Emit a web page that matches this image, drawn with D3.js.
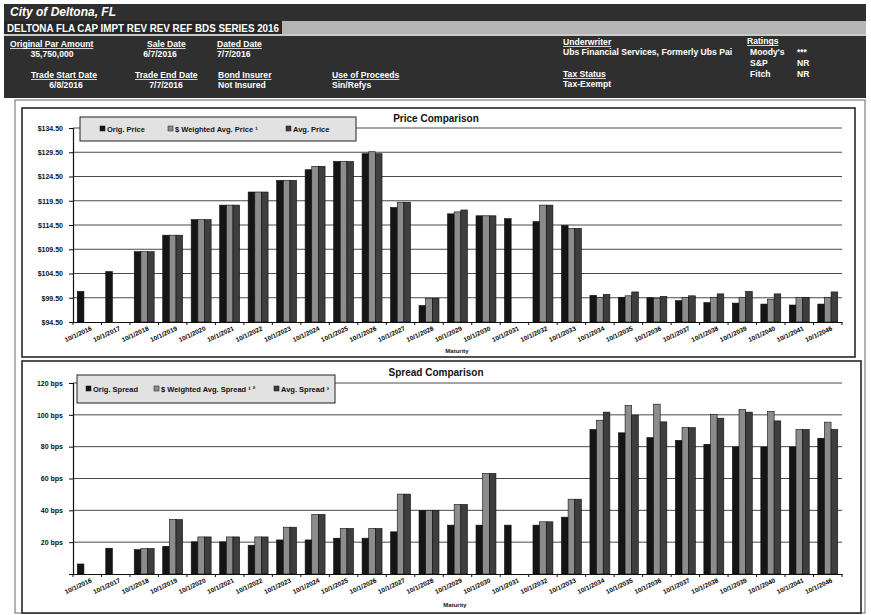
<!DOCTYPE html>
<html>
<head>
<meta charset="utf-8">
<script src="https://cdn.jsdelivr.net/npm/d3@7"></script>
<style>
  html, body { margin: 0; padding: 0; background: #fff; }
  svg { display: block; font-family: "Liberation Sans", Arial, sans-serif; }
</style>
</head>
<body>
<svg id="chart" width="871" height="615"></svg>
<script>
// Maturity dates shared by both panels
const maturities = [
  "10/1/2016", "10/1/2017", "10/1/2018", "10/1/2019", "10/1/2020", "10/1/2021",
  "10/1/2022", "10/1/2023", "10/1/2024", "10/1/2025", "10/1/2026", "10/1/2027",
  "10/1/2028", "10/1/2029", "10/1/2030", "10/1/2031", "10/1/2032", "10/1/2033",
  "10/1/2034", "10/1/2035", "10/1/2036", "10/1/2037", "10/1/2038", "10/1/2039",
  "10/1/2040", "10/1/2041", "10/1/2046"
];

// Prices (dollars per 100 par)
const origPrice = [100.8, 104.9, 109.0, 112.4, 115.6, 118.6, 121.3, 123.7, 125.9, 127.6, 129.2, 118.1, 97.9,
  116.8, 116.4, 115.8, 115.2, 114.4, 100.0, 99.6, 99.5, 98.9, 98.5, 98.4, 98.2, 98.0, 98.2];
const wtdAvgPrice = [null, null, 109.0, 112.4, 115.6, 118.6, 121.3, 123.7, 126.6, 127.6, 129.6, 119.2, 99.4,
  117.2, 116.4, null, 118.6, 113.8, 99.6, 99.9, 99.4, 99.6, 99.6, 99.6, 99.2, 99.6, 99.6];
const avgPrice = [null, null, 109.0, 112.4, 115.6, 118.6, 121.3, 123.7, 126.6, 127.6, 129.2, 119.2, 99.4,
  117.6, 116.4, null, 118.6, 113.8, 100.2, 100.7, 99.8, 99.9, 100.3, 100.8, 100.3, 99.6, 100.7];

// Spreads (basis points)
const origSpread = [6.3, 16.2, 15.3, 17.4, 20.2, 20.2, 18.1, 21.4, 21.4, 22.5, 22.5, 26.5, 39.9,
  30.7, 30.7, 30.7, 30.7, 35.7, 90.8, 88.7, 85.7, 84.0, 81.5, 79.8, 79.8, 79.8, 85.3];
const wtdAvgSpread = [null, null, 16.0, 34.2, 23.3, 23.3, 23.3, 29.4, 37.4, 28.6, 28.6, 50.2, 39.9,
  43.7, 63.2, null, 32.8, 47.0, 96.6, 105.9, 106.7, 92.0, 100.2, 103.4, 102.1, 90.8, 95.4];
const avgSpread = [null, null, 16.0, 34.2, 23.3, 23.3, 23.3, 29.4, 37.4, 28.6, 28.6, 50.2, 39.9,
  43.7, 63.2, null, 32.8, 47.0, 101.7, 99.8, 95.6, 92.0, 97.9, 101.7, 96.2, 90.8, 90.8];

// Axis ticks
const priceTicks = [94.5, 99.5, 104.5, 109.5, 114.5, 119.5, 124.5, 129.5, 134.5];
const spreadTicks = [0, 20, 40, 60, 80, 100, 120];

// Legend names
const priceSeries = ["Orig. Price", "$ Weighted Avg. Price \u00b9", "Avg. Price"];
const spreadSeries = ["Orig. Spread", "$ Weighted Avg. Spread \u00b9 \u00b2", "Avg. Spread \u00b3"];

const seriesFill = ["#151515", "#8c8c8c", "#3e3e3e"];
const font = "'Liberation Sans', Arial, sans-serif";

const svg = d3.select("#chart");

// ---------- Header block ----------
const head = svg.append("g").attr("font-family", font);
head.append("rect").attr("x", 4).attr("y", 4).attr("width", 862).attr("height", 94)
  .attr("fill", "#2f2f2f");
head.append("rect").attr("x", 4).attr("y", 21).attr("width", 862).attr("height", 13)
  .attr("fill", "#b5b5b5");
head.append("rect").attr("x", 4).attr("y", 21).attr("width", 278).attr("height", 13)
  .attr("fill", "#262626");
head.append("line").attr("x1", 4).attr("x2", 866).attr("y1", 35).attr("y2", 35)
  .attr("stroke", "#fff").attr("stroke-width", 1.5);

head.append("text").attr("x", 10).attr("y", 16)
  .attr("fill", "#fff").attr("font-size", 12).attr("font-style", "italic").attr("font-weight", "bold")
  .text("City of Deltona, FL");
head.append("text").attr("x", 7).attr("y", 32)
  .attr("fill", "#fff").attr("font-size", 11).attr("font-weight", "bold")
  .attr("textLength", 272).attr("lengthAdjust", "spacingAndGlyphs")
  .text("DELTONA FLA CAP IMPT REV REV REF BDS SERIES 2016");

const headerFields = [
  { label: "Original Par Amount", value: "35,750,000", x: 10, y: 47, vx: 52, anchor: "middle" },
  { label: "Sale Date", value: "6/7/2016", x: 147, y: 47, vx: 160, anchor: "middle" },
  { label: "Dated Date", value: "7/7/2016", x: 217, y: 47, vx: 217, anchor: "start" },
  { label: "Trade Start Date", value: "6/8/2016", x: 31, y: 78, vx: 66, anchor: "middle" },
  { label: "Trade End Date", value: "7/7/2016", x: 135, y: 78, vx: 166, anchor: "middle" },
  { label: "Bond Insurer", value: "Not Insured", x: 218, y: 78, vx: 218, anchor: "start" },
  { label: "Use of Proceeds", value: "Sin/Refys", x: 332, y: 78, vx: 332, anchor: "start" },
  { label: "Underwriter", value: "Ubs Financial Services, Formerly Ubs Pai", x: 563, y: 45, vx: 563, anchor: "start" },
  { label: "Tax Status", value: "Tax-Exempt", x: 563, y: 77, vx: 563, anchor: "start" },
  { label: "Ratings", value: null, x: 747, y: 44 }
];
headerFields.forEach(f => {
  const t = head.append("text").attr("x", f.x).attr("y", f.y)
    .attr("fill", "#fff").attr("font-size", 8.6).attr("font-weight", "bold").text(f.label);
  const w = t.node().getComputedTextLength();
  head.append("line").attr("x1", f.x).attr("x2", f.x + w).attr("y1", f.y + 1.5).attr("y2", f.y + 1.5)
    .attr("stroke", "#fff").attr("stroke-width", 0.8);
  if (f.value) {
    head.append("text").attr("x", f.vx).attr("y", f.y + 9.5).attr("text-anchor", f.anchor)
      .attr("fill", "#fff").attr("font-size", 8.6).attr("font-weight", "bold").text(f.value);
  }
});
[["Moody's", "***", 55], ["S&P", "NR", 66], ["Fitch", "NR", 77]].forEach(([agency, r, y]) => {
  head.append("text").attr("x", 750).attr("y", y).attr("fill", "#fff")
    .attr("font-size", 8.6).attr("font-weight", "bold").text(agency);
  head.append("text").attr("x", 797).attr("y", y).attr("fill", "#fff")
    .attr("font-size", 8.5).attr("font-weight", "bold").text(r);
});

// Outer frame around both panels
svg.append("rect").attr("x", 15).attr("y", 100).attr("width", 850).attr("height", 513)
  .attr("fill", "none").attr("stroke", "#666").attr("stroke-width", 1);

// ---------- Shared panel renderer ----------
function panel(cfg) {
  const g = svg.append("g");
  g.append("rect").attr("x", cfg.box[0]).attr("y", cfg.box[1]).attr("width", cfg.box[2]).attr("height", cfg.box[3])
    .attr("fill", "#fff").attr("stroke", "#1a1a1a").attr("stroke-width", 1.5);

  const x = d3.scaleBand().domain(maturities).range([73, 842]).paddingInner(0.3).paddingOuter(0.15);
  const xs = d3.scaleBand().domain([0, 1, 2]).range([0, x.bandwidth()]);
  const y = d3.scaleLinear().domain(cfg.domain).range(cfg.yRange);

  // Gridlines
  g.append("g").selectAll("line").data(cfg.ticks.slice(1)).join("line")
    .attr("x1", 73).attr("x2", 842).attr("y1", d => y(d)).attr("y2", d => y(d))
    .attr("stroke", "#4a4a4a").attr("stroke-width", 1);

  // Bars
  const rows = cfg.series.map((vals, si) => vals.map((v, i) => ({ si, cat: maturities[i], v })))
    .flat().filter(d => d.v !== null);
  g.append("g").selectAll("rect").data(rows).join("rect")
    .attr("x", d => x(d.cat) + xs(d.si))
    .attr("width", xs.bandwidth())
    .attr("y", d => y(d.v))
    .attr("height", d => y(cfg.domain[0]) - y(d.v))
    .attr("fill", d => seriesFill[d.si])
    .attr("stroke", "#0d0d0d").attr("stroke-width", 0.6);

  // Y axis
  const ya = g.append("g").attr("transform", "translate(73,0)")
    .call(d3.axisLeft(y).tickValues(cfg.ticks).tickSize(4).tickFormat(cfg.fmt));
  ya.select(".domain").attr("stroke", "#111").attr("stroke-width", 1.2);
  ya.selectAll(".tick line").attr("stroke", "#111");
  ya.selectAll(".tick text").attr("font-size", 7).attr("font-weight", "bold").attr("fill", "#111")
    .attr("font-family", font).attr("dx", -3);

  // X axis with category boundary ticks
  const baseY = y(cfg.domain[0]);
  const xa = g.append("g").attr("transform", `translate(0,${baseY})`)
    .call(d3.axisBottom(x).tickSize(0).tickFormat(""));
  xa.select(".domain").attr("stroke", "#111").attr("stroke-width", 1.2);
  g.append("g").selectAll("line").data(d3.range(maturities.length + 1)).join("line")
    .attr("x1", i => 73 + i * (769 / maturities.length)).attr("x2", i => 73 + i * (769 / maturities.length))
    .attr("y1", baseY).attr("y2", baseY + 3).attr("stroke", "#111");
  g.append("g").selectAll("text").data(maturities).join("text")
    .attr("transform", d => `translate(${x(d) + x.bandwidth() / 2 + 5},${baseY + 8}) rotate(-25)`)
    .attr("text-anchor", "end")
    .attr("font-size", 6.5).attr("font-weight", "bold").attr("fill", "#000")
    .attr("font-family", font)
    .text(d => d);

  g.append("text").attr("x", cfg.mx).attr("y", cfg.my).attr("text-anchor", "middle")
    .attr("font-size", 6).attr("font-weight", "bold").attr("fill", "#111").text("Maturity");

  // Title
  g.append("text").attr("x", 436).attr("y", cfg.titleY).attr("text-anchor", "middle")
    .attr("font-size", 10).attr("font-weight", "bold").attr("fill", "#111").text(cfg.title);

  // Legend
  const [lx, ly, lw, lh] = cfg.legend;
  g.append("rect").attr("x", lx).attr("y", ly).attr("width", lw).attr("height", lh)
    .attr("fill", "#e2e2e2").attr("stroke", "#222").attr("stroke-width", 1);
  cfg.names.forEach((n, i) => {
    const ix = cfg.legendX[i];
    g.append("rect").attr("x", ix).attr("y", ly + lh / 2 - 3).attr("width", 5).attr("height", 5)
      .attr("fill", seriesFill[i]).attr("stroke", "#111").attr("stroke-width", 0.5);
    g.append("text").attr("x", ix + 7).attr("y", ly + lh / 2 + 2.5)
      .attr("font-size", 7.5).attr("font-weight", "bold").attr("fill", "#111")
      .attr("font-family", font)
      .text(n);
  });
}

panel({
  box: [22, 108, 833, 249],
  domain: [94.5, 134.5], yRange: [322, 128], ticks: priceTicks,
  fmt: d => "$" + d3.format(".2f")(d),
  series: [origPrice, wtdAvgPrice, avgPrice],
  title: "Price Comparison", titleY: 122,
  legend: [80, 117, 276, 24], legendX: [100, 168, 286], names: priceSeries,
  mx: 457, my: 353
});

panel({
  box: [22, 361, 839, 252],
  domain: [0, 120], yRange: [574, 383], ticks: spreadTicks,
  fmt: d => d === 0 ? "" : d + " bps",
  series: [origSpread, wtdAvgSpread, avgSpread],
  title: "Spread Comparison", titleY: 376,
  legend: [77, 375, 258, 28], legendX: [86, 154, 274], names: spreadSeries,
  mx: 455, my: 607
});
</script>
</body>
</html>
